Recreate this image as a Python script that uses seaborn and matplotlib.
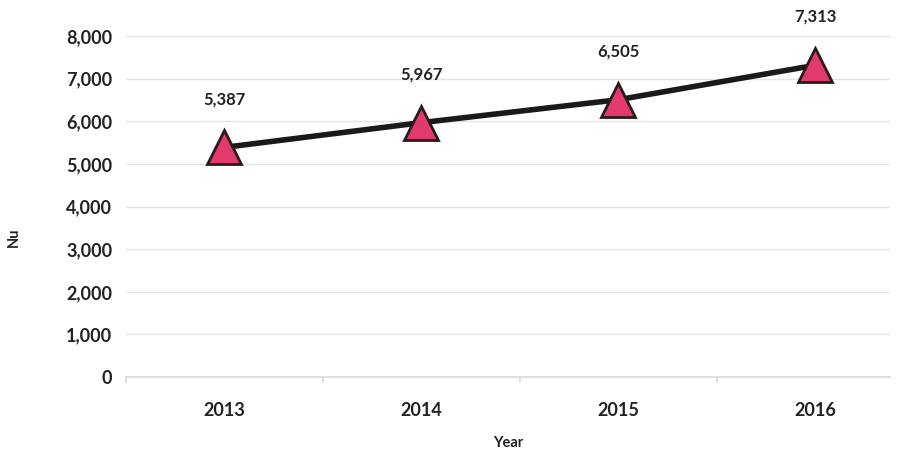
import matplotlib
matplotlib.use("Agg")
import matplotlib.pyplot as plt
import seaborn as sns
import pandas as pd

years = ["2013", "2014", "2015", "2016"]
values = [5387, 5967, 6505, 7313]
yticks = [0, 1000, 2000, 3000, 4000, 5000, 6000, 7000, 8000]

sns.set_theme(style="white")
plt.rcParams['font.family'] = ['Lato', 'DejaVu Sans']

df = pd.DataFrame({"Year": years, "Nu": values})

fig = plt.figure(figsize=(9.05, 4.51), dpi=100)
ax = fig.add_axes([126/905, 74/451, (890-126)/905, (377-36)/451])

sns.lineplot(data=df, x="Year", y="Nu", ax=ax, color="#1a1a1a", linewidth=4,
             marker="^", markersize=24, markerfacecolor="#E23A6E",
             markeredgecolor="#2a1a1a", markeredgewidth=2, sort=False, zorder=3)

for i, v in enumerate(values):
    ax.annotate(f"{v:,}", (i, v), xytext=(0, 29), textcoords="offset points",
                ha="center", va="bottom", fontsize=12, fontweight="bold", color="#222222")

ax.set_ylim(0, 8000)
ax.set_xlim(-0.5, 3.38)
ax.set_yticks(yticks)
ax.set_yticklabels([f"{t:,}" for t in yticks], fontsize=13, fontweight="bold", color="#222222")
ax.tick_params(axis="x", labelsize=13, colors="#222222", length=0, pad=18)
for lab in ax.get_xticklabels():
    lab.set_fontweight("bold")
ax.tick_params(axis="y", length=0, pad=10)
ax.grid(axis="y", color="#e4e4e4", linewidth=1)
ax.grid(axis="x", visible=False)
for s in ["top", "right", "left"]:
    ax.spines[s].set_visible(False)
ax.spines["bottom"].set_color("#d9d9d9")
ax.spines["bottom"].set_linewidth(1.2)
for xb in [-0.5, 0.5, 1.5, 2.5]:
    ax.plot([xb, xb], [0, -120], color="#d9d9d9", linewidth=1.2, clip_on=False)

ax.set_xlabel("Year", fontsize=10.5, fontweight="bold", color="#222222", labelpad=12)
ax.set_ylabel("Nu", fontsize=10.5, fontweight="bold", color="#222222")
ax.yaxis.set_label_coords(-0.138, 0.41)

fig.savefig("out.png", dpi=100, facecolor="white")
